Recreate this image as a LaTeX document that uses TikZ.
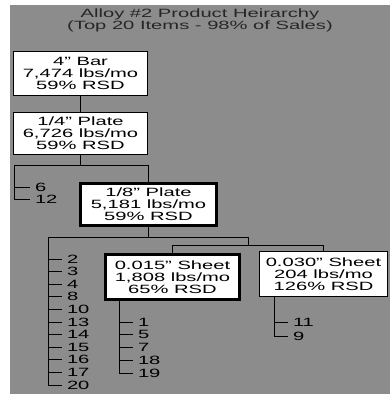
\documentclass[tikz,border=0pt]{standalone}
\usepackage{fontspec}
\setmainfont[FakeStretch=1.68]{Liberation Sans}
\definecolor{bg}{RGB}{140,140,140}
\begin{document}
\begin{tikzpicture}[x=1pt,y=-1pt,
  txt/.style={font=\fontsize{12}{12}\selectfont},
  box/.style={txt, draw=black, fill=white, line width=1pt, align=center, inner sep=0pt},
  thickbox/.style={box, line width=3pt},
  lbl/.style={txt, anchor=west, inner sep=0pt, outer sep=5pt},
  conn/.style={draw=black, line width=1pt}]
\fill[white] (0,0) rectangle (390,396);
\useasboundingbox (0,0) rectangle (390,396);
\fill[bg] (10,5) rectangle (390,394);
\node[txt, align=center, text=black!85] (title) at (200,20.5) {Alloy \#2 Product Heirarchy\\(Top 20 Items - 98\% of Sales)};
% boxes
\node[box, minimum width=134pt, minimum height=44pt] (b1) at (80.5,73.5) {4" Bar\\7,474 lbs/mo\\59\% RSD};
\node[box, minimum width=134pt, minimum height=42pt] (b2) at (80.5,133.5) {1/4" Plate\\6,726 lbs/mo\\59\% RSD};
\node[thickbox, minimum width=136pt, minimum height=42pt] (b3) at (148.5,204.5) {1/8" Plate\\5,181 lbs/mo\\59\% RSD};
\node[thickbox, minimum width=134pt, minimum height=45pt] (b4) at (172.5,277) {0.015" Sheet\\1,808 lbs/mo\\65\% RSD};
\node[box, minimum width=128pt, minimum height=45pt] (b5) at (323.5,274) {0.030" Sheet\\204 lbs/mo\\126\% RSD};
% b1 -> b2
\draw[conn] (b1) -- (b2);
% b2 children
\coordinate (h2L) at (14,165);
\node[lbl] (n6) at (30,187) {6};
\node[lbl] (n12) at (30,199) {12};
\draw[conn] (b2.south) -- (b2.south |- h2L);
\draw[conn] (h2L) -- (h2L -| b3.north) -- (b3.north);
\draw[conn] (h2L |- n6.west) -- (n6.west);
\draw[conn] (h2L) |- (n12.west);
% b3 children
\coordinate (h3L) at (48,237);
\coordinate (h3R) at (248,237);
\coordinate (h4) at (248,245);
\draw[conn] (b3.south) -- (b3.south |- h3L);
\draw[conn] (h3L) -- (h3R) -- (h4);
\draw[conn] (b4.north) |- (h4);
\draw[conn] (b5.north) |- (h4);
\foreach \t [count=\i from 0] in {2,3,4,8,10,13,14,15,16,17,20} {
  \node[lbl] (L\t) at (62,{259+12.6*\i}) {\t};
}
\foreach \t in {2,3,4,8,10,13,14,15,16,17} {
  \draw[conn] (h3L |- L\t.west) -- (L\t.west);
}
\draw[conn] (h3L) |- (L20.west);
% b4 children
\foreach \t [count=\i from 0] in {1,5,7,18,19} {
  \node[lbl] (R\t) at (133,{322+12.75*\i}) {\t};
}
\coordinate (s4) at ([xshift=-53.5pt]b4.south);
\foreach \t in {1,5,7,18} {
  \draw[conn] (s4 |- R\t.west) -- (R\t.west);
}
\draw[conn] (s4) |- (R19.west);
% b5 children
\node[lbl] (Q11) at (288,322) {11};
\node[lbl] (Q9) at (288,336) {9};
\coordinate (s5) at ([xshift=-49.5pt]b5.south);
\draw[conn] (s5 |- Q11.west) -- (Q11.west);
\draw[conn] (s5) |- (Q9.west);
\end{tikzpicture}
\end{document}
